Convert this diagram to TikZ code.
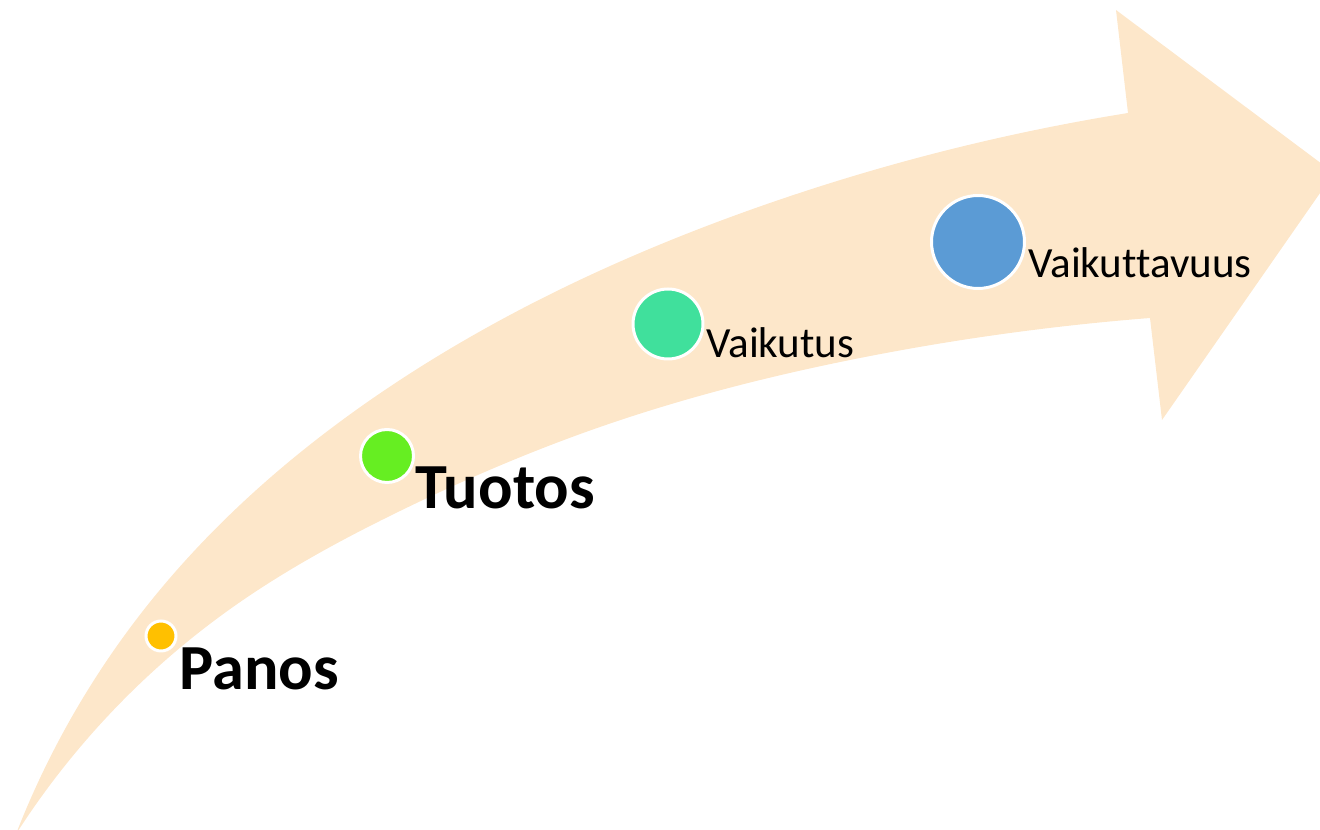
\documentclass[tikz,border=0pt]{standalone}
\usepackage{fontspec}
\setmainfont{Carlito}[Ligatures=NoCommon]
\usetikzlibrary{hobby}
\definecolor{arrowfill}{HTML}{FDE7CA}
\definecolor{panoscol}{HTML}{FFC000}
\definecolor{tuotoscol}{HTML}{66EE22}
\definecolor{vaikutuscol}{HTML}{40E09C}
\definecolor{vaikuttcol}{HTML}{5B9BD5}
\tikzset{
  dot/.style={circle,draw=white,line width=0.06cm,inner sep=0pt},
  biglabel/.style={anchor=base west,inner sep=0pt,font=\fontsize{36.6}{40}\selectfont\bfseries},
  smalllabel/.style={anchor=base west,inner sep=0pt,font=\fontsize{24.5}{28}\selectfont}
}
\begin{document}
\begin{tikzpicture}[x=0.02cm,y=-0.02cm,use Hobby shortcut]
        \useasboundingbox (0,0) rectangle (1320,830);
        \clip (0,0) rectangle (1320,830);

        % curved arrow
        \coordinate (tail) at (16,834);
        \coordinate (notchA) at (1128,113);
        \coordinate (barbA) at (1116,10);
        \coordinate (tip) at (1334,173);
        \coordinate (barbB) at (1162,420);
        \coordinate (notchB) at (1150,318);
        \fill[arrowfill] (tail) .. (150,602) .. (400,380) .. (750,210) .. (notchA)
            -- (barbA) -- (tip) -- (barbB) -- (notchB)
            .. (850,360) .. (600,427) .. (400,511) .. (233,607) .. (tail) -- cycle;

        % stages
        \node[dot,fill=panoscol,minimum size=0.6cm] (panos) at (161,636) {};
        \node[dot,fill=tuotoscol,minimum size=1.06cm] (tuotos) at (387,456) {};
        \node[dot,fill=vaikutuscol,minimum size=1.4cm] (vaikutus) at (668,324) {};
        \node[dot,fill=vaikuttcol,minimum size=1.86cm] (vaikutt) at (978,242) {};

        \node[biglabel] (lpanos) at (179,690) {Panos};
        \node[biglabel] (ltuotos) at (415,509) {Tuotos};
        \node[smalllabel] (lvaikutus) at (706,358) {Vaikutus};
        \node[smalllabel] (lvaikutt) at (1028,278) {Vaikuttavuus};% no bold here
\end{tikzpicture}
\end{document}
